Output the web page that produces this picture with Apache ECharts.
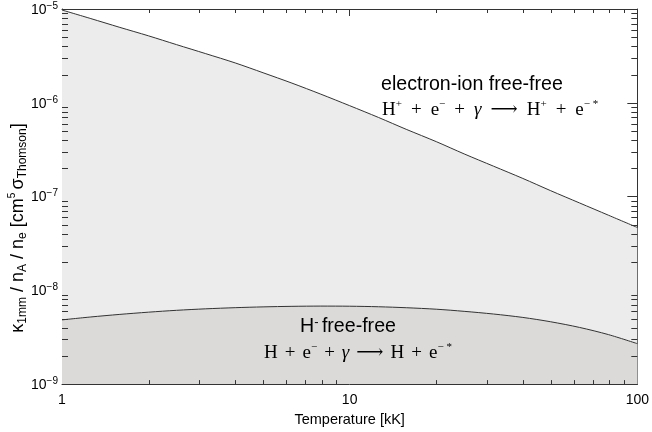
<!DOCTYPE html>
<html>
<head>
<meta charset="utf-8">
<script src="https://cdn.jsdelivr.net/npm/echarts@6/dist/echarts.min.js"></script>
<style>html,body{margin:0;padding:0;background:#fff}#c{width:652px;height:432px}</style>
</head>
<body>
<div id="c"></div>
<script>
// Temperature grid [kK]
const temperature = [1, 1.26, 1.58, 2, 2.5, 3.16, 4, 5, 6.3, 7.94, 10, 12.6, 15.8, 20, 25, 31.6, 40, 50, 63, 79.4, 100];
// electron-ion free-free  (kappa_1mm / nA / ne)
const electronIonFF = [9.75e-6, 7.90e-6, 6.40e-6, 5.17e-6, 4.17e-6, 3.34e-6, 2.66e-6, 2.09e-6, 1.62e-6, 1.235e-6,
  9.31e-7, 6.97e-7, 5.18e-7, 3.85e-7, 2.85e-7, 2.11e-7, 1.56e-7, 1.154e-7, 8.54e-8, 6.32e-8, 4.68e-8];
// H- free-free
const hMinusFF = [4.84e-9, 5.20e-9, 5.53e-9, 5.85e-9, 6.12e-9, 6.35e-9, 6.53e-9, 6.66e-9, 6.75e-9, 6.79e-9,
  6.77e-9, 6.68e-9, 6.52e-9, 6.29e-9, 5.97e-9, 5.59e-9, 5.14e-9, 4.62e-9, 4.02e-9, 3.37e-9, 2.70e-9];
// axis ranges and minor ticks
const xRange = [1, 100];
const yRange = [1e-9, 1e-5];
const xMinorTicks = [2, 3, 4, 5, 6, 7, 8, 9, 20, 30, 40, 50, 60, 70, 80, 90];
const yMinorTicks = [];
[-9, -8, -7, -6].forEach(e => { for (let m = 2; m <= 9; m++) yMinorTicks.push(m * Math.pow(10, e)); });

const SANS = 'Liberation Sans';
const SERIF = 'Liberation Serif';
const axisColor = '#333';

function supLabel(v) {
  const e = Math.round(Math.log10(v));
  return '{b|10}{s|' + (e < 0 ? '\u2212' + (-e) : e) + '}';
}

const chart = echarts.init(document.getElementById('c'), null, {renderer: 'canvas'});
const pair = arr => temperature.map((t, i) => [t, arr[i]]);

const FS = 19;
function formulaRich(pad) {
  return {
    t: {fontFamily: SERIF, fontSize: FS, lineHeight: 22, fill: '#000'},
    s: {fontFamily: SERIF, fontSize: 11, verticalAlign: 'top', lineHeight: 22, fill: '#000'},
    op: {fontFamily: SERIF, fontSize: FS, lineHeight: 22, padding: [0, pad, 0, pad], fill: '#000'},
    i: {fontFamily: SERIF, fontSize: FS, fontStyle: 'italic', lineHeight: 22, fill: '#000'},
    ar: {fontFamily: 'DejaVu Serif', fontSize: FS, lineHeight: 22, padding: [0, pad, 0, pad], fill: '#000'}
  };
}

chart.setOption({
  animation: false,
  backgroundColor: '#fff',
  grid: {left: 62, right: 11, top: 9, bottom: 45},
  xAxis: [{
    type: 'log', min: xRange[0], max: xRange[1], logBase: 10,
    axisLine: {lineStyle: {color: axisColor, width: 1}},
    axisTick: {inside: true, length: 7, lineStyle: {color: axisColor}},
    axisLabel: {color: '#000', fontFamily: SANS, fontSize: 14, margin: 9,
      formatter: v => String(v)},
    splitLine: {show: false},
    name: 'Temperature [kK]', nameLocation: 'middle', nameGap: 24,
    nameTextStyle: {color: '#000', fontFamily: SANS, fontSize: 14.5}
  }, {
    type: 'log', min: xRange[0], max: xRange[1], logBase: 10, position: 'top',
    axisLine: {lineStyle: {color: axisColor, width: 1}},
    axisTick: {inside: true, length: 7, lineStyle: {color: axisColor}},
    axisLabel: {show: false}, splitLine: {show: false}
  }],
  yAxis: [{
    type: 'log', min: yRange[0], max: yRange[1], logBase: 10,
    axisLine: {lineStyle: {color: axisColor, width: 1}},
    axisTick: {inside: true, length: 10, lineStyle: {color: axisColor}},
    axisLabel: {margin: 4, formatter: supLabel,
      rich: {
        b: {color: '#000', fontFamily: SANS, fontSize: 14, lineHeight: 16, verticalAlign: 'bottom'},
        s: {color: '#000', fontFamily: SANS, fontSize: 10, lineHeight: 16, verticalAlign: 'top'}
      }},
    splitLine: {show: false}
  }, {
    type: 'log', min: yRange[0], max: yRange[1], logBase: 10, position: 'right',
    axisLine: {lineStyle: {color: axisColor, width: 1}},
    axisTick: {inside: true, length: 10, lineStyle: {color: axisColor}},
    axisLabel: {show: false}, splitLine: {show: false}
  }],
  series: [{
    name: 'electron-ion free-free', type: 'line', data: pair(electronIonFF),
    smooth: 0.3, symbol: 'none',
    lineStyle: {color: '#333', width: 1},
    areaStyle: {color: '#ececec', opacity: 1, origin: 'start'},
    z: 1
  }, {
    name: 'H- free-free', type: 'line', data: pair(hMinusFF),
    smooth: 0.3, symbol: 'none',
    lineStyle: {color: '#333', width: 1},
    areaStyle: {color: '#dbdad9', opacity: 1, origin: 'start'},
    z: 2
  }, {
    type: 'custom', data: [[xRange[0], yRange[0]]], z: 5, silent: true, clip: false,
    renderItem: function (params, api) {
      const bl = api.coord([xRange[0], yRange[0]]);
      const tr = api.coord([xRange[1], yRange[1]]);
      const st = {stroke: axisColor, lineWidth: 1};
      const ch = [];
      xMinorTicks.forEach(v => {
        const x = Math.round(api.coord([v, yRange[0]])[0]) + 0.5;
        ch.push({type: 'line', shape: {x1: x, y1: bl[1], x2: x, y2: bl[1] - 4}, style: st});
        ch.push({type: 'line', shape: {x1: x, y1: tr[1], x2: x, y2: tr[1] + 4}, style: st});
      });
      yMinorTicks.forEach(v => {
        const y = Math.round(api.coord([xRange[0], v])[1]) + 0.5;
        ch.push({type: 'line', shape: {x1: bl[0], y1: y, x2: bl[0] + 6, y2: y}, style: st});
        ch.push({type: 'line', shape: {x1: tr[0], y1: y, x2: tr[0] - 6, y2: y}, style: st});
      });
      return {type: 'group', children: ch};
    }
  }],
  graphic: [{
    type: 'text', left: 381, top: 75, z: 10,
    style: {text: 'electron-ion free-free', fill: '#000', font: '19.6px "Liberation Sans"'}
  }, {
    type: 'text', left: 382, top: 99, z: 10,
    style: {
      text: '{t|H}{s|+}{op|+}{t|e}{s|\u2212}{op|+}{i|\u03b3}{ar|\u27f6}{t|H}{s|+}{op|+}{t|e}{s|\u2212 *}',
      rich: formulaRich(9)
    }
  }, {
    type: 'text', x: 348, y: 327, z: 10,
    style: {
      text: '{t|H}{s|-} {t|free-free}', fill: '#000',
      align: 'center', verticalAlign: 'middle',
      rich: {
        t: {fontFamily: SANS, fontSize: 19.6, lineHeight: 22, fill: '#000'},
        s: {fontFamily: SANS, fontSize: 13, verticalAlign: 'top', lineHeight: 22, fill: '#000'}
      }
    }
  }, {
    type: 'text', x: 358, y: 353, z: 10,
    style: {
      text: '{t|H}{op|+}{t|e}{s|\u2212}{op|+}{i|\u03b3}{ar|\u27f6}{t|H}{op|+}{t|e}{s|\u2212 *}',
      align: 'center', verticalAlign: 'middle',
      rich: formulaRich(7)
    }
  }, {
    type: 'text', x: 18, y: 228, rotation: Math.PI / 2, z: 10,
    style: {
      text: '{m|\u03ba}{sub|1mm}{m| / n}{sub|A}{m| / n}{sub|e}{m| [cm}{sup|5} {m|\u03c3}{sub|Thomson}{m|]}',
      fill: '#000', align: 'center', verticalAlign: 'middle',
      rich: {
        m: {fontFamily: SANS, fontSize: 18, lineHeight: 22, fill: '#000'},
        sub: {fontFamily: SANS, fontSize: 12, verticalAlign: 'bottom', lineHeight: 20, fill: '#000'},
        sup: {fontFamily: SANS, fontSize: 10, verticalAlign: 'top', lineHeight: 22, fill: '#000'}
      }
    }
  }]
});
</script>
</body>
</html>
